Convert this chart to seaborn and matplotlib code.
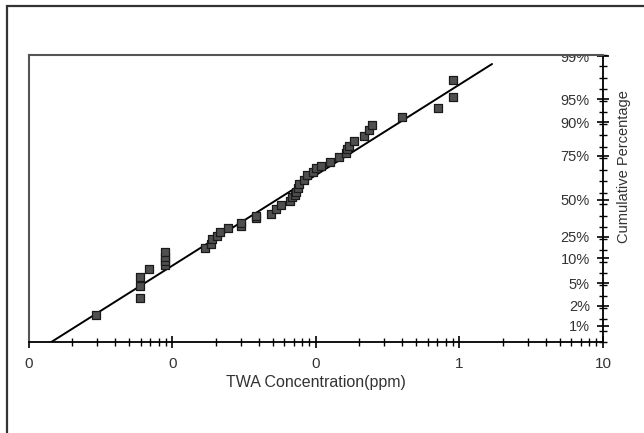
import numpy as np
import pandas as pd
import seaborn as sns
import matplotlib.pyplot as plt
from matplotlib.patches import Rectangle
from matplotlib.ticker import FixedLocator, NullFormatter

# TWA concentrations (ppm), in rank order
twa_ppm = [0.00291, 0.00591, 0.00591, 0.00591, 0.00688,
           0.00883, 0.00883, 0.00883, 0.00883, 0.01674,
           0.01849, 0.01873, 0.02043, 0.02154, 0.02438,
           0.02995, 0.02995, 0.03824, 0.03824, 0.04891,
           0.05301, 0.05717, 0.06584, 0.06789, 0.07158,
           0.07251, 0.07487, 0.07609, 0.08271, 0.08612,
           0.09530, 0.1003, 0.1075, 0.1254, 0.1452,
           0.1606, 0.1633, 0.1686, 0.1827, 0.2146,
           0.2355, 0.2452, 0.3984, 0.7109, 0.8973, 0.8973]

# plotting position of each sample in probit units (50% = 0)
probit_pos = [-1.917, -1.628, -1.428, -1.278, -1.155,
              -1.083, -1.017, -0.945, -0.872, -0.805,
              -0.738, -0.655, -0.600, -0.528, -0.472,
              -0.428, -0.378, -0.305, -0.262, -0.233,
              -0.158, -0.083, -0.017, 0.055, 0.083,
              0.138, 0.195, 0.262, 0.333, 0.417,
              0.472, 0.538, 0.575, 0.633, 0.717,
              0.778, 0.842, 0.908, 0.988, 1.067,
              1.167, 1.250, 1.378, 1.528, 1.712, 2.000]

# lognormal fit shown as the straight line
geo_mean = 0.053
geo_sd = 4.6
line_top = 2.267

pct_labels = ['1%', '2%', '5%', '10%', '25%', '50%', '75%', '90%', '95%', '99%']
pct_pos = [-2.095, -1.762, -1.388, -0.972, -0.612, 0.0, 0.738, 1.295, 1.683, 2.40]

x_ticks = [0.001, 0.01, 0.1, 1, 10]
x_tick_labels = ['0', '0', '0', '1', '10']

y_lo, y_hi = -2.367, 2.417

df = pd.DataFrame({'twa': twa_ppm, 'z': probit_pos})
z_line = np.linspace(y_lo, line_top, 20)
fit = pd.DataFrame({'twa': geo_mean * geo_sd ** z_line, 'z': z_line})

sns.set_style('white')
plt.rcParams['font.family'] = ['Liberation Sans', 'DejaVu Sans']

fig = plt.figure(figsize=(6.44, 4.33), dpi=100)
ax = fig.add_axes([29 / 644, 91 / 433, 574 / 644, 287 / 433])

sns.lineplot(data=fit, x='twa', y='z', color='black', lw=1.4, sort=False, ax=ax)
sns.scatterplot(data=df, x='twa', y='z', marker='s', s=40, color='#4f4f4f',
                edgecolor='#1a1a1a', linewidth=0.9, zorder=3, ax=ax)

ax.set_xscale('log')
ax.set_xlim(0.001, 10)
ax.set_ylim(y_lo, y_hi)

# x axis
ax.set_xticks(x_ticks)
ax.set_xticklabels(x_tick_labels)
ax.xaxis.set_minor_formatter(NullFormatter())
ax.tick_params(axis='x', which='major', direction='inout', length=9, width=1.2,
               color='black', labelsize=11, pad=6, bottom=True,
               labelcolor='#333333')
ax.tick_params(axis='x', which='minor', direction='inout', length=6, width=1.0,
               color='black', bottom=True)

# probability axis on the right, labels sitting inside the frame
ax.yaxis.set_ticks_position('right')
ax.set_yticks(pct_pos)
ax.set_yticklabels(pct_labels)
ax.yaxis.set_minor_locator(FixedLocator(np.linspace(y_lo, y_hi, 26)))
ax.tick_params(axis='y', which='major', direction='inout', length=9, width=1.2,
               color='black', labelsize=10.5, pad=-14, right=True, left=False,
               labelright=True, labelleft=False, labelcolor='#333333')
ax.tick_params(axis='y', which='minor', direction='inout', length=6, width=1.0,
               color='black', right=True, left=False)
for lab in ax.get_yticklabels():
    lab.set_horizontalalignment('right')
    if lab.get_text() == '99%':
        lab.set_clip_path(ax.patch)

ax.set_xlabel('TWA Concentration(ppm)', fontsize=11.5, color='#333333')
ax.xaxis.set_label_coords(0.5, -0.116)
ax.yaxis.set_label_position('right')
ax.set_ylabel('Cumulative Percentage', fontsize=10.5, color='#333333')
ax.yaxis.set_label_coords(1.024, 0.61)

for side in ['top', 'left']:
    ax.spines[side].set_color('#555555')
    ax.spines[side].set_linewidth(1.5)
for side in ['bottom', 'right']:
    ax.spines[side].set_color('black')
    ax.spines[side].set_linewidth(1.3)

# outer frame around the figure (only top and left edges are visible)
fig.patches.append(Rectangle((7 / 644, -0.1), 1.2, 1.0 - 5.5 / 433 + 0.1,
                             transform=fig.transFigure, fill=False,
                             ec='#333333', lw=1.6))

fig.savefig('out.png', dpi=100)
